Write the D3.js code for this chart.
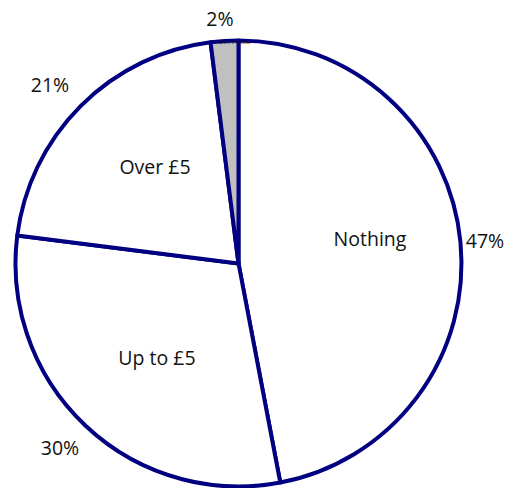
<!DOCTYPE html>
<html>
<head>
<meta charset="utf-8">
<script src="https://cdn.jsdelivr.net/npm/d3@7"></script>
<style>
  html, body { margin: 0; padding: 0; background: #fff; }
  svg { display: block; }
  text { font-family: "Open Sans", "Noto Sans", sans-serif; fill: #111; }
</style>
</head>
<body>
<svg id="chart" width="508" height="488"></svg>
<script>
// Share of respondents by amount spent
const categories = ["Nothing", "Up to £5", "Over £5", "Don't know"];
const shares = [47, 30, 21, 2];
const percentLabels = ["47%", "30%", "21%", "2%"];
const sliceColors = ["#ffffff", "#ffffff", "#ffffff", "#c0c0c0"];

const svg = d3.select("#chart");
const cx = 238.5, cy = 263.5, radius = 223;

const g = svg.append("g").attr("transform", `translate(${cx},${cy})`);

const pie = d3.pie().sort(null).value(d => d.value);
const arcs = pie(categories.map((c, i) => ({ name: c, value: shares[i], pct: percentLabels[i], color: sliceColors[i] })));

const arc = d3.arc().innerRadius(0).outerRadius(radius);

g.selectAll("path.slice")
  .data(arcs)
  .join("path")
  .attr("class", "slice")
  .attr("d", arc)
  .attr("fill", d => d.data.color)
  .attr("stroke", "#000080")
  .attr("stroke-width", 4)
  .attr("stroke-linejoin", "round");

// Category names inside the larger slices
const innerPos = {
  "Nothing": [370, 238],
  "Up to £5": [157, 357],
  "Over £5": [155, 166]
};
arcs.filter(d => innerPos[d.data.name]).forEach(d => {
  const [x, y] = innerPos[d.data.name];
  svg.append("text")
    .attr("x", x).attr("y", y)
    .attr("text-anchor", "middle")
    .attr("dominant-baseline", "central")
    .attr("font-size", 19.5)
    .text(d.data.name);
});

// Tiny label squeezed into the thin slice
const small = arcs[3];
const sp = d3.arc().innerRadius(radius - 2).outerRadius(radius - 2).centroid(small);
svg.append("text")
  .attr("x", cx + sp[0] + 10).attr("y", cy + sp[1] + 1)
  .attr("text-anchor", "middle")
  .attr("font-size", 6)
  .attr("fill", "#555")
  .text(small.data.name);

// Percentage labels outside the pie
const outerPos = {
  "Nothing": [485, 240],
  "Up to £5": [60, 447],
  "Over £5": [50, 84],
  "Don't know": [220, 18]
};
arcs.forEach(d => {
  const [x, y] = outerPos[d.data.name];
  svg.append("text")
    .attr("x", x).attr("y", y)
    .attr("text-anchor", "middle")
    .attr("dominant-baseline", "central")
    .attr("font-size", 19.5)
    .text(d.data.pct);
});
</script>
</body>
</html>
